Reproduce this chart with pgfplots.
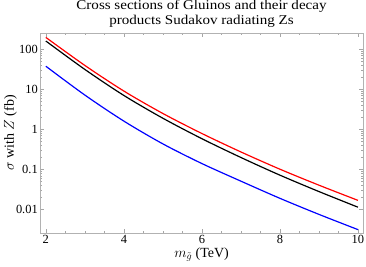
\documentclass[border=0pt]{standalone}
\usepackage{fontspec}
\setmainfont{Liberation Serif}
\newfontfamily\titlefont[FakeStretch=1.12]{Liberation Serif}
\usepackage{pgfplots}
\pgfplotsset{compat=1.18}
\begin{document}
\begin{tikzpicture}[x=1bp,y=1bp]
\begin{axis}[
  at={(0,0)}, anchor=south west,
  scale only axis,
  width=323bp, height=200bp,
  ymode=log,
  xmin=1.85, xmax=10.13,
  ymin=0.0026, ymax=257,
  xtick={2,4,6,8,10},
  minor x tick num=3,
  ytick={0.01,0.1,1,10,100},
  yticklabels={0.01,0.1,1,10,100},
  axis line style={gray!60},
  every tick/.style={gray!70},
  major tick length=4bp,
  minor tick length=2bp,
  tick label style={font=\fontsize{12.5}{13}\selectfont, text=black},
  xticklabel style={inner sep=2bp},
  yticklabel style={inner sep=2bp},
  /pgf/number format/assume math mode=true,
  xlabel={$m_{\tilde{g}}$ (TeV)},
  ylabel={$\sigma$ with $Z$ (fb)},
  label style={font=\fontsize{14}{15}\selectfont},
  xlabel style={inner sep=1bp, yshift=-1bp},
  ylabel style={inner sep=1bp, yshift=-4bp},
  title={Cross sections of Gluinos and their decay\\products Sudakov radiating Zs},
  title style={at={(0.5,1)}, anchor=south, yshift=-1.5bp, align=center, font=\titlefont\fontsize{13.5}{14.5}\selectfont, inner sep=1bp},
  clip=true,
]
\addplot[red, line width=1.2pt, smooth] coordinates {
(2,199.5) (3,39.8) (4,9.12) (5,2.51) (6,0.794) (7,0.275) (8,0.102) (9,0.0407) (10,0.0170)};
\addplot[black, line width=1.2pt, smooth] coordinates {
(2,162) (3,31.6) (4,7.08) (5,1.91) (6,0.589) (7,0.200) (8,0.0724) (9,0.0282) (10,0.01148)};
\addplot[blue, line width=1.2pt, smooth] coordinates {
(2,38.0) (3,7.24) (4,1.62) (5,0.437) (6,0.141) (7,0.0513) (8,0.0191) (9,0.00759) (10,0.00316)};
\end{axis}
\pgfresetboundingbox
\path[use as bounding box] (-40,-34) rectangle (326,233);
\end{tikzpicture}
\end{document}
